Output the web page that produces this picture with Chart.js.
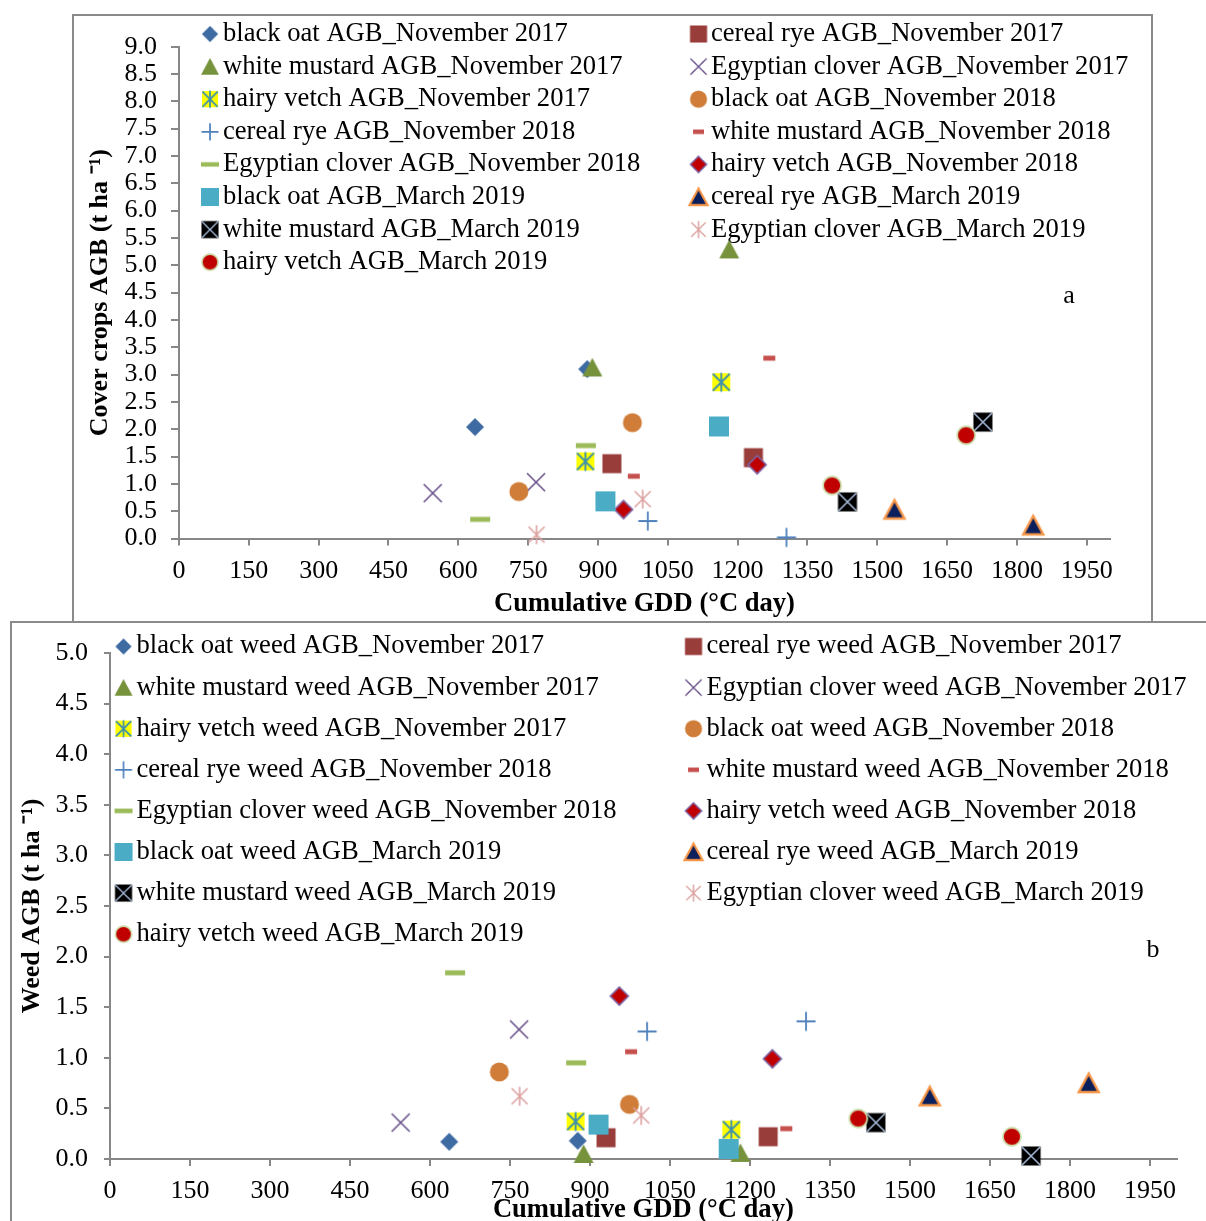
<!DOCTYPE html>
<html>
<head>
<meta charset="utf-8">
<script src="https://cdn.jsdelivr.net/npm/chart.js@4.4.1/dist/chart.umd.min.js"></script>
<style>
  html, body { margin: 0; padding: 0; overflow: hidden; background: #fff; width: 1206px; height: 1221px; }
  .frame { position: absolute; border: 2px solid #8a8a8a; background: #fff; overflow: hidden; }
  #frameA { left: 72px; top: 14px; width: 1077px; height: 605px; }
  #frameB { left: 10px; top: 621px; width: 1300px; height: 700px; }
  canvas { position: absolute; left: 0; top: 0; }
</style>
</head>
<body>
<div class="frame" id="frameA"><canvas id="chartA" width="1077" height="605"></canvas></div>
<div class="frame" id="frameB"><canvas id="chartB" width="1194" height="620"></canvas></div>
<script>
// Cover crop species and sampling dates; series run date-major, crop-minor.
const crops = ['black oat', 'cereal rye', 'white mustard', 'Egyptian clover', 'hairy vetch'];
const periods = ['November 2017', 'November 2018', 'March 2019'];

// Cumulative GDD (°C day) at the two sites, one value per series.
const gddSite1 = [636, 930, 888, 545, 873, 730, 1007, 977, 647, 955, 916, 1537, 1436, 768, 1403];
const gddSite2 = [877, 1234, 1182, 767, 1165, 974, 1305, 1268, 874, 1242, 1160, 1835, 1727, 996, 1691];

// Cover crop above-ground biomass (t ha-1).
const coverAgbSite1 = [2.04, 1.37, 3.13, 0.83, 1.41, 0.86, 0.32, 1.14, 0.35, 0.53, 0.68, 0.53, 0.67, 0.07, 0.97];
const coverAgbSite2 = [3.10, 1.48, 5.29, 1.03, 2.86, 2.12, 0.02, 3.30, 1.70, 1.35, 2.05, 0.24, 2.13, 0.72, 1.89];

// Weed above-ground biomass (t ha-1).
const weedAgbSite1 = [0.17, 0.21, 0.05, 0.36, 0.37, 0.86, 1.26, 1.06, 1.84, 1.61, 0.34, 0.62, 0.36, 0.62, 0.40];
const weedAgbSite2 = [0.18, 0.22, 0.06, 1.28, 0.29, 0.54, 1.36, 0.30, 0.95, 0.99, 0.10, 0.75, 0.03, 0.43, 0.22];

// Axis tick settings.
const gddMin = 0, gddMax = 2000, gddStep = 150;
const coverMax = 9, weedMax = 5, agbStep = 0.5;

const SERIF = '"Liberation Serif", "Times New Roman", serif';
const FONT_SIZE = 26;
const WIDE_FONT_SIZE = 26.6;
const AXIS_GREY = '#878787';

// ---- marker sprites -------------------------------------------------------
function sprite(draw) {
  const c = document.createElement('canvas');
  c.width = 26; c.height = 26;
  const g = c.getContext('2d');
  g.translate(13, 13);
  draw(g);
  return c;
}
const diamond = (fill, stroke) => sprite(g => {
  const r = 9;
  g.beginPath(); g.moveTo(0, -r); g.lineTo(r, 0); g.lineTo(0, r); g.lineTo(-r, 0); g.closePath();
  g.fillStyle = fill; g.fill();
  if (stroke) { g.strokeStyle = stroke; g.lineWidth = 1.6; g.stroke(); }
});
const square = (fill, s) => sprite(g => { g.fillStyle = fill; g.fillRect(-s / 2, -s / 2, s, s); });
const triangle = (fill, stroke) => sprite(g => {
  g.beginPath(); g.moveTo(0, -9.5); g.lineTo(10, 9); g.lineTo(-10, 9); g.closePath();
  g.fillStyle = fill; g.fill();
  if (stroke) { g.strokeStyle = stroke; g.lineWidth = 2.4; g.lineJoin = 'miter'; g.stroke(); }
});
const lines = (g, color, segs, w) => {
  g.strokeStyle = color; g.lineWidth = w; g.beginPath();
  segs.forEach(([a, b, c, d]) => { g.moveTo(a, b); g.lineTo(c, d); });
  g.stroke();
};
const cross = (color) => sprite(g => lines(g, color, [[-9, -9, 9, 9], [-9, 9, 9, -9]], 1.6));
const plus = (color) => sprite(g => lines(g, color, [[-9.5, 0, 9.5, 0], [0, -9.5, 0, 9.5]], 1.8));
const asterisk = (color) => sprite(g => lines(g, color, [[-8, -8, 8, 8], [-8, 8, 8, -8], [0, -9.5, 0, 9.5]], 1.6));
const starSquare = (fill, color) => sprite(g => {
  g.fillStyle = fill; g.fillRect(-9, -9, 18, 18);
  lines(g, color, [[-8.5, -8.5, 8.5, 8.5], [-8.5, 8.5, 8.5, -8.5], [0, -9.5, 0, 9.5]], 1.8);
});
const crossSquare = (fill, color) => sprite(g => {
  g.fillStyle = fill; g.fillRect(-9.5, -9.5, 19, 19);
  lines(g, color, [[-9, -9, 9, 9], [-9, 9, 9, -9]], 1.6);
});
const dash = (fill, w, h) => sprite(g => { g.fillStyle = fill; g.fillRect(-w / 2, -h / 2, w, h); });
const dot = (fill, stroke) => sprite(g => {
  g.beginPath(); g.arc(0, 0, stroke ? 9 : 9.5, 0, Math.PI * 2);
  g.fillStyle = fill; g.fill();
  if (stroke) { g.strokeStyle = stroke; g.lineWidth = 1.8; g.stroke(); }
});

// One marker per series, same order as the data arrays.
const markers = [
  diamond('#3f6ba3'),
  square('#993d3a', 19),
  triangle('#76933c'),
  cross('#67508a'),
  starSquare('#ffff00', '#3d8fae'),
  dot('#cf7d38'),
  plus('#4f81bd'),
  dash('#c6504d', 12, 5),
  dash('#9bbb59', 20, 5),
  diamond('#c00000', '#7e63a2'),
  square('#4bacc6', 20),
  triangle('#0b1f5c', '#f79646'),
  crossSquare('#000000', '#a5b9d6'),
  asterisk('#dca2a0'),
  dot('#c00000', '#cddcaa')
];

// Legend drawn inside the plot, two columns filled row by row.
const insideLegend = {
  id: 'insideLegend',
  beforeDatasetsDraw(chart, args, o) {
    const ctx = chart.ctx;
    ctx.save();
    ctx.font = WIDE_FONT_SIZE + 'px ' + SERIF;
    ctx.fillStyle = '#000';
    ctx.textBaseline = 'middle';
    ctx.textAlign = 'left';
    chart.data.datasets.forEach((ds, i) => {
      const col = i % 2, row = Math.floor(i / 2);
      const y = o.y0 + row * o.dy;
      const img = ds.pointStyle, k = 0.9;
      ctx.drawImage(img, o.markerX[col] - img.width * k / 2, y - img.height * k / 2, img.width * k, img.height * k);
      ctx.fillText(ds.label, o.textX[col], y);
    });
    ctx.font = FONT_SIZE + 'px ' + SERIF;
    ctx.textAlign = 'center';
    ctx.fillText(o.tag, o.tagX, o.tagY);
    ctx.restore();
  }
};

function buildChart(id, values1, values2, labelFn, lay) {
  const datasets = markers.map((m, i) => {
    const crop = crops[i % 5], period = periods[Math.floor(i / 5)];
    return {
      label: labelFn(crop, period),
      data: [{ x: gddSite1[i], y: values1[i] }, { x: gddSite2[i], y: values2[i] }],
      pointStyle: m,
      pointRadius: 10,
      showLine: false,
      clip: false,
      order: markers.length - i
    };
  });
  return new Chart(document.getElementById(id), {
    type: 'scatter',
    data: { datasets },
    plugins: [insideLegend],
    options: {
      responsive: false,
      animation: false,
      events: [],
      layout: { padding: { left: 0, top: lay.top, right: lay.right, bottom: 0 } },
      plugins: {
        legend: { display: false },
        tooltip: { enabled: false },
        insideLegend: lay.legend
      },
      scales: {
        x: {
          type: 'linear',
          min: gddMin, max: gddMax,
          afterFit: s => { s.height = lay.xHeight; s.paddingLeft = 0; s.paddingRight = 0; },
          border: { display: true, color: AXIS_GREY, width: 2 },
          grid: { drawOnChartArea: false, drawTicks: true, tickLength: 7, color: AXIS_GREY, lineWidth: 2 },
          ticks: {
            stepSize: gddStep, includeBounds: false, autoSkip: false, maxRotation: 0,
            color: '#000', padding: lay.xTickPad, font: { family: SERIF, size: FONT_SIZE },
            callback: v => String(v)
          },
          title: {
            display: true, text: 'Cumulative GDD (°C day)', color: '#000',
            font: { family: SERIF, size: WIDE_FONT_SIZE, weight: 'bold', lineHeight: 1.2 },
            padding: { top: 0, bottom: lay.xTitlePad }
          }
        },
        y: {
          type: 'linear',
          min: 0, max: lay.yMax,
          afterFit: s => { s.width = lay.yWidth; s.paddingTop = 0; s.paddingBottom = 0; },
          border: { display: true, color: AXIS_GREY, width: 2 },
          grid: { drawOnChartArea: false, drawTicks: true, tickLength: lay.yTickLen, color: AXIS_GREY, lineWidth: 2 },
          ticks: {
            stepSize: agbStep, autoSkip: false, color: '#000', padding: lay.yTickPad,
            font: { family: SERIF, size: FONT_SIZE },
            callback: v => Number(v).toFixed(1)
          },
          title: {
            display: true, text: lay.yTitle, color: '#000',
            font: { family: SERIF, size: FONT_SIZE, weight: 'bold', lineHeight: 1.2 },
            padding: { top: lay.yTitlePad, bottom: 0 }
          }
        }
      }
    }
  });
}

// (a) cover crop biomass
buildChart('chartA', coverAgbSite1, coverAgbSite2,
  (crop, period) => crop + ' AGB_' + period,
  {
    top: 30.7, right: 41, xHeight: 82.5, yWidth: 105, yMax: coverMax,
    xTickPad: 10, yTickLen: 8, yTickPad: 14, xTitlePad: 1.4, yTitlePad: 10.4,
    yTitle: 'Cover crops AGB (t ha ⁻¹)',
    legend: { y0: 18, dy: 32.6, markerX: [136, 624.5], textX: [149, 637], tag: 'a', tagX: 995, tagY: 280 }
  });

// (b) weed biomass
buildChart('chartB', weedAgbSite1, weedAgbSite2,
  (crop, period) => crop + ' weed AGB_' + period,
  {
    top: 30, right: 29.3, xHeight: 84, yWidth: 98, yMax: weedMax,
    xTickPad: 10, yTickLen: 6, yTickPad: 16, xTitlePad: 17, yTitlePad: 4.4,
    yTitle: 'Weed AGB (t ha ⁻¹)',
    legend: { y0: 23.5, dy: 41.1, markerX: [111.5, 681.5], textX: [124.5, 694.5], tag: 'b', tagX: 1141, tagY: 327 }
  });
</script>
</body>
</html>
